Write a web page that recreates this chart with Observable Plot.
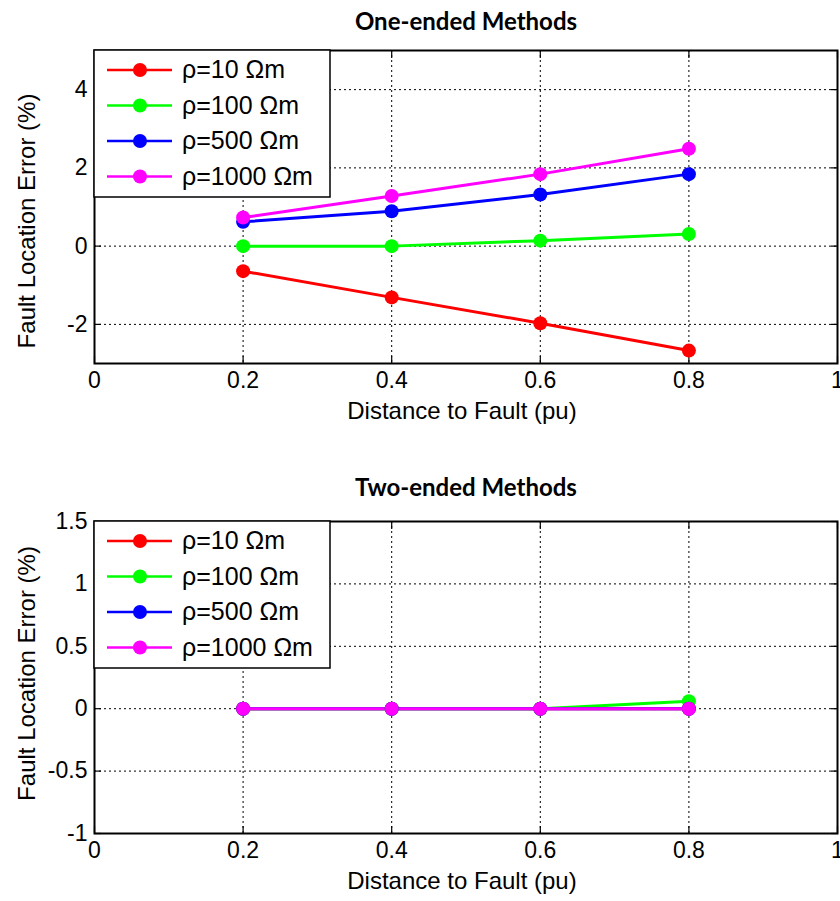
<!DOCTYPE html>
<html>
<head>
<meta charset="utf-8">
<script src="https://cdn.jsdelivr.net/npm/d3@7"></script>
<script src="https://cdn.jsdelivr.net/npm/@observablehq/plot@0.6"></script>
<style>
  html, body { margin: 0; padding: 0; background: #fff; }
  #chart svg { display: block; }
</style>
</head>
<body>
<div id="chart"></div>
<script>
// ---- data ----
const xVals = [0.2, 0.4, 0.6, 0.8];
const seriesNames = ["ρ=10 Ωm", "ρ=100 Ωm", "ρ=500 Ωm", "ρ=1000 Ωm"];
const seriesColors = ["#ff0000", "#00ff00", "#0000ff", "#ff00ff"];

// One-ended methods
const one10   = [-0.64, -1.31, -1.97, -2.67];
const one100  = [0.00, 0.00, 0.14, 0.31];
const one500  = [0.62, 0.89, 1.32, 1.84];
const one1000 = [0.73, 1.28, 1.84, 2.49];

// Two-ended methods
const two10   = [0, 0, 0, 0];
const two100  = [0, 0, 0, 0.06];
const two500  = [0, 0, 0, 0];
const two1000 = [0, 0, 0, 0];

const xTicks = [0, 0.2, 0.4, 0.6, 0.8, 1];
const yTicksOne = [-2, 0, 2, 4];
const yTicksTwo = [-1, -0.5, 0, 0.5, 1, 1.5];

const titleOne = "One-ended Methods";
const titleTwo = "Two-ended Methods";
const xLabel = "Distance to Fault (pu)";
const yLabel = "Fault Location Error (%)";

const sans = "'Liberation Sans', Arial, sans-serif";

function makeChart({title, series, yDomain, yTicks, marginTop, marginBottom, height, titleDy, yLabelDy}) {
  const data = series.flatMap((vals, i) => vals.map((v, j) => ({x: xVals[j], y: v, s: seriesNames[i]})));
  const grid = {stroke: "black", strokeOpacity: 1, strokeWidth: 1, strokeDasharray: "2,3"};
  const plot = Plot.plot({
    width: 840,
    height,
    marginLeft: 94,
    marginRight: 3,
    marginTop,
    marginBottom,
    style: {fontFamily: sans, fontSize: "23px", color: "black", background: "white"},
    x: {domain: [0, 1]},
    y: {domain: yDomain},
    color: {domain: seriesNames, range: seriesColors},
    marks: [
      Plot.gridX(xTicks, grid),
      Plot.gridY(yTicks, grid),
      Plot.axisX(xTicks, {anchor: "bottom", tickSize: 0, tickPadding: 8, tickFormat: d => String(d), label: null, fontSize: 23}),
      Plot.axisY(yTicks, {anchor: "left", tickSize: 0, tickPadding: 7, tickFormat: d => String(d), label: null, fontSize: 23}),
      Plot.axisX(xTicks, {anchor: "bottom", tickSize: -7, tickFormat: () => "", label: null, strokeWidth: 1.2}),
      Plot.axisX(xTicks, {anchor: "top", tickSize: -7, tickFormat: () => "", label: null, strokeWidth: 1.2}),
      Plot.axisY(yTicks, {anchor: "left", tickSize: -7, tickFormat: () => "", label: null, strokeWidth: 1.2}),
      Plot.axisY(yTicks, {anchor: "right", tickSize: -7, tickFormat: () => "", label: null, strokeWidth: 1.2}),
      Plot.line(data, {x: "x", y: "y", z: "s", stroke: "s", strokeWidth: 3}),
      Plot.dot(data, {x: "x", y: "y", fill: "s", r: 7}),
      Plot.frame({stroke: "black", strokeWidth: 2}),
      Plot.text([title], {frameAnchor: "top", dy: titleDy, fontWeight: "bold", fontSize: 24, fontFamily: "Lato, 'Open Sans', sans-serif", lineAnchor: "middle"}),
      Plot.text([xLabel], {frameAnchor: "bottom", dx: -4, dy: 48, fontSize: 24, lineAnchor: "middle"}),
      Plot.text([yLabel], {frameAnchor: "left", rotate: -90, dx: -67, dy: yLabelDy, fontSize: 24, textAnchor: "middle", lineAnchor: "middle"})
    ]
  });

  // legend box (MATLAB style, upper left inside axes)
  const svg = d3.select(plot);
  const lx = 94, ly = marginTop, lw = 236, rowH = 35.5;
  const g = svg.append("g").attr("text-anchor", "start");
  g.append("rect").attr("x", lx).attr("y", ly).attr("width", lw).attr("height", rowH * seriesNames.length + 5)
    .attr("fill", "white").attr("stroke", "black").attr("stroke-width", 1.5);
  seriesNames.forEach((name, i) => {
    const cy = ly + 20 + i * rowH;
    g.append("line").attr("x1", lx + 13).attr("x2", lx + 78).attr("y1", cy).attr("y2", cy)
      .attr("stroke", seriesColors[i]).attr("stroke-width", 2.5);
    g.append("circle").attr("cx", lx + 46).attr("cy", cy).attr("r", 7).attr("fill", seriesColors[i]);
    g.append("text").attr("x", lx + 88).attr("y", cy + 8).attr("text-anchor", "start")
      .attr("font-family", sans).attr("font-size", 25)
      .attr("fill", "black").text(name);
  });
  return plot;
}

const root = document.getElementById("chart");
root.appendChild(makeChart({
  title: titleOne,
  series: [one10, one100, one500, one1000],
  yDomain: [-3, 5], yTicks: yTicksOne,
  marginTop: 50, marginBottom: 67, height: 430, titleDy: -28, yLabelDy: 14
}));
root.appendChild(makeChart({
  title: titleTwo,
  series: [two10, two100, two500, two1000],
  yDomain: [-1, 1.5], yTicks: yTicksTwo,
  marginTop: 91, marginBottom: 68, height: 471, titleDy: -33, yLabelDy: -4
}));
</script>
</body>
</html>
